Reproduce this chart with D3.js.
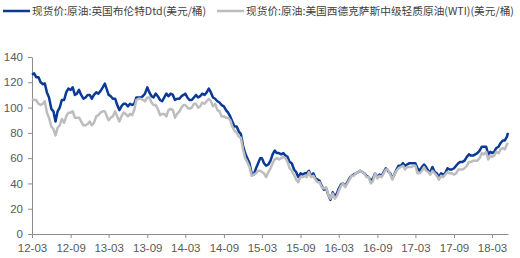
<!DOCTYPE html>
<html>
<head>
<meta charset="utf-8">
<script src="https://cdn.jsdelivr.net/npm/d3@7"></script>
<style>
  body { margin: 0; background: #fff; }
  text { font-family: "Liberation Sans", Arial, sans-serif; }
  .legend text { font-family: "Noto Sans CJK SC", sans-serif; }
</style>
</head>
<body>
<div id="chart"></div>
<script>
var width = 520;
var height = 258;

let parseDay = d3.timeParse("%Y-%m-%d");
let parseTick = d3.timeParse("%y-%m");

// sampled on the 1st, 11th and 21st of each month
let months = [];
for (let y = 2012; y <= 2018; y++) {
    for (let m = 1; m <= 12; m++) {
        if (y == 2012 && m < 3) continue;
        if (y == 2018 && m > 5) continue;
        months.push(y + "-" + String(m).padStart(2, "0"));
    }
}
let dates = [];
months.forEach(m => {
    dates.push(m + "-01");
    dates.push(m + "-11");
    dates.push(m == "2018-05" ? m + "-16" : m + "-21");
});

let seriesNames = ["现货价:原油:英国布伦特Dtd(美元/桶)", "现货价:原油:美国西德克萨斯中级轻质原油(WTI)(美元/桶)"];

let brent = [
    126,127,124, 124,120,118.5, 119,112,108, 99,97,89, 97,100,106, 106,112,115, 114,116,110, 111,114,110, 107,108,110, 110,107,110,
    112,111,113, 116,119,114, 110,109,107, 107,102,98, 101,103,103, 101,103,102, 103,108,108, 108,109,111, 116,112,109, 108,111,109, 106,105,108, 111,109,111,
    110,106,107, 107,109,110, 111,108,106, 106,108,110, 108,109,111, 110,112,115, 112,108,107, 105,104,102, 101,98,96, 93,89,85, 85,81,79, 70,64,60,
    56,48,47, 52,56,60, 60,56,54, 55,58,63, 66,64,64, 63,64,62, 61,57,56, 51,49,45, 48,47,48, 48,50,46, 48,44,43, 42,38,35,
    36,31,27, 33,30,32, 36,39,40, 38,41,44, 46,47,48, 49,50,49, 48,46,45, 42,44,48, 45,47,46, 49,52,50, 48,44,47, 51,54,54,
    56,54,55, 56,56,56, 56,52,50, 53,55,53, 50,49,53, 49,48,45, 48,47,48, 52,51,51, 52,54,56, 57,57,58, 61,63,62, 62,63,64,
    66,69,69, 69,63,65, 64,65,68, 69,72,74, 74,77,80
];

let wti = [
    107,106,106, 103,102,103, 105,96,92, 85,83,78, 84,86,91, 88,93,96, 96,97,92, 92,92,89, 86,86,87, 89,86,88,
    93,94,96, 97,97,93, 90,92,93, 97,93,89, 93,96,95, 93,95,94, 98,106,107, 107,106,105, 108,108,104, 102,102,99, 94,95,95, 93,98,99,
    98,92,95, 97,100,102, 102,100,99, 100,103,103, 100,101,104, 103,105,107, 105,101,103, 98,97,93, 93,92,92, 90,85,82, 80,77,76, 67,60,57,
    53,46,47, 48,50,50, 49,48,45, 49,52,56, 59,60,59, 60,61,60, 57,52,50, 47,43,41, 45,45,46, 45,49,45, 46,43,41, 41,37,36,
    37,31,28, 32,28,30, 34,38,40, 37,40,43, 46,46,48, 49,50,49, 48,45,45, 40,42,48, 44,46,45, 48,51,51, 47,43,47, 50,52,53,
    54,51,53, 53,53,54, 54,48,48, 50,53,50, 49,47,50, 48,46,43, 46,45,47, 49,48,48, 47,48,51, 51,51,52, 54,57,57, 58,58,58,
    60,64,63, 65,59,62, 61,62,65, 64,67,68, 67,71,72
];

let tickLabels = ["12-03","12-09","13-03","13-09","14-03","14-09","15-03","15-09","16-03","16-09","17-03","17-09","18-03"];
let yTicks = [0,20,40,60,80,100,120,140];
let colors = ["#0a3a96", "#bdbdbd"];

var svg = d3.select("#chart").append("svg")
    .attr("width", width).attr("height", height);

let x = d3.scaleTime().domain([parseDay("2012-03-01"), parseDay("2018-05-16")]).range([32, 508]);
let y = d3.scaleLinear().domain([0, 140]).range([234, 57]);

// axes
let xAxis = d3.axisBottom(x)
    .tickValues(tickLabels.map(t => parseTick(t)))
    .tickFormat(d3.timeFormat("%y-%m"))
    .tickSizeInner(4).tickSizeOuter(0);
let gx = svg.append("g").attr("transform", "translate(0,234)").call(xAxis);
gx.select(".domain").attr("stroke", "#8c8c8c");
gx.selectAll(".tick line").attr("stroke", "#8c8c8c");
gx.selectAll(".tick text").attr("fill", "#595959").attr("font-size", 11.5)
    .attr("font-family", "Liberation Sans, Arial, sans-serif").attr("dy", "0.95em");

let yAxis = d3.axisLeft(y).tickValues(yTicks).tickSizeInner(4).tickSizeOuter(0);
let gy = svg.append("g").attr("transform", "translate(32,0)").call(yAxis);
gy.select(".domain").attr("stroke", "#8c8c8c");
gy.selectAll(".tick line").attr("stroke", "#8c8c8c");
gy.selectAll(".tick text").attr("fill", "#595959").attr("font-size", 11.5)
    .attr("font-family", "Liberation Sans, Arial, sans-serif").attr("x", -9);

// lines: brent first, wti on top
let line = d3.line().x((d, i) => x(parseDay(dates[i]))).y(d => y(d));
svg.append("path").datum(brent).attr("d", line)
    .attr("fill", "none").attr("stroke", colors[0]).attr("stroke-width", 2.5).attr("stroke-linejoin", "round");
svg.append("path").datum(wti).attr("d", line)
    .attr("fill", "none").attr("stroke", colors[1]).attr("stroke-width", 2.5).attr("stroke-linejoin", "round");

// legend
let legendX = [3, 217];
let lg = svg.append("g").attr("class", "legend");
seriesNames.forEach((name, i) => {
    lg.append("line").attr("x1", legendX[i]).attr("x2", legendX[i] + 27)
        .attr("y1", 11).attr("y2", 11).attr("stroke", colors[i]).attr("stroke-width", 2.5);
    lg.append("text").attr("x", legendX[i] + 29).attr("y", 15)
        .attr("font-size", 10.7).attr("fill", "#404040").text(name);
});
</script>
</body>
</html>
